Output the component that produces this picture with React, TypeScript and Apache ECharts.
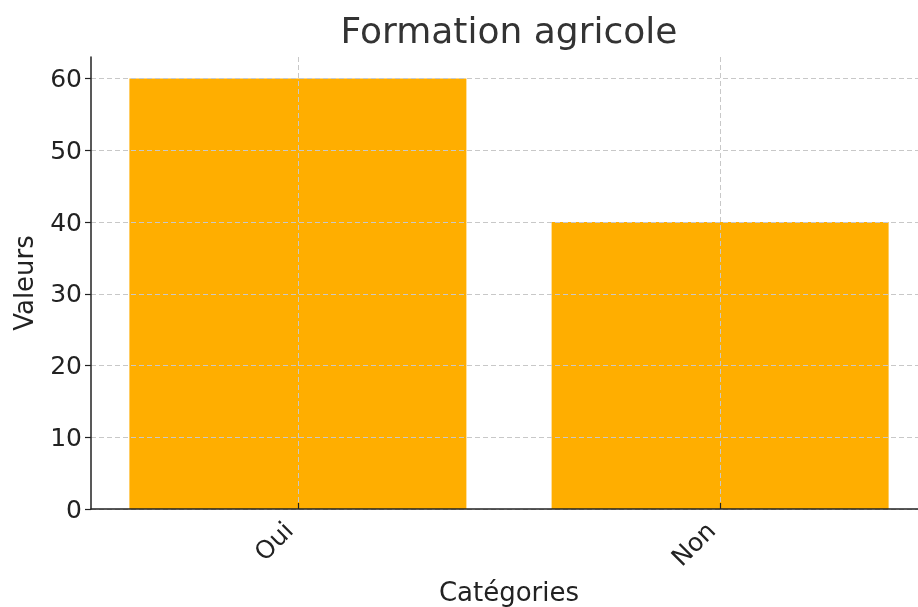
import React, { useEffect, useRef } from "react";
import * as echarts from "echarts";

const categories = ["Oui", "Non"];
const values = [60, 40];
const yTicks = [0, 10, 20, 30, 40, 50, 60];
const title = "Formation agricole";
const xName = "Catégories";
const yName = "Valeurs";

export default function App() {
  const ref = useRef<HTMLDivElement>(null);
  useEffect(() => {
    if (!ref.current) return;
    const chart = echarts.init(ref.current, null, { renderer: "svg" });
    const font = "DejaVu Sans";
    const xIdx = categories.map((_, i) => i);
    chart.setOption({
      animation: false,
      graphic: [
        {
          type: "text",
          x: 509,
          y: 30,
          style: {
            text: title,
            textAlign: "center",
            textVerticalAlign: "middle",
            fontFamily: font,
            fontSize: 36,
            fill: "#333",
          },
        },
      ],
      grid: {
        left: 91,
        top: 57,
        width: 836,
        height: 452,
        containLabel: false,
        outerBoundsMode: "none",
      },
      xAxis: {
        type: "value",
        min: -0.49,
        max: 1.49,
        z: 5,
        name: xName,
        nameLocation: "middle",
        nameGap: 70,
        nameTextStyle: { fontFamily: font, fontSize: 26, color: "#222", verticalAlign: "top" },
        axisLine: { show: true, onZero: false, lineStyle: { color: "#222", width: 1.5 } },
        axisTick: { show: true, inside: true, length: 6, customValues: xIdx, lineStyle: { color: "#222", width: 1.2 } },
        axisLabel: {
          customValues: xIdx,
          formatter: (v: number) => categories[Math.round(v)] ?? "",
          rotate: 45,
          margin: 8,
          padding: [0, 13, 0, 0],
          fontFamily: font,
          fontSize: 25,
          color: "#222",
        },
        splitLine: { show: true, lineStyle: { color: "#c8c8c8", type: [5, 3], width: 1 } },
      },
      yAxis: {
        type: "value",
        min: 0,
        max: 63,
        z: 5,
        name: yName,
        nameLocation: "middle",
        nameGap: 54,
        nameTextStyle: { fontFamily: font, fontSize: 26, color: "#222" },
        axisLine: { show: true, onZero: false, lineStyle: { color: "#222", width: 1.5 } },
        axisTick: { show: true, length: 6, customValues: yTicks, lineStyle: { color: "#222", width: 1.2 } },
        axisLabel: { customValues: yTicks, margin: 9, fontFamily: font, fontSize: 25, color: "#222" },
        splitLine: { show: true, lineStyle: { color: "#c8c8c8", type: [5, 3], width: 1 } },
      },
      series: [
        {
          type: "bar",
          data: values.map((v, i) => [i, v]),
          barWidth: 337,
          itemStyle: { color: "#FFAE00" },
          z: 2,
        },
      ],
    });
    return () => chart.dispose();
  }, []);
  return (
    <div
      ref={ref}
      style={{ position: "fixed", left: 0, top: 0, width: 918, height: 607 }}
    />
  );
}
